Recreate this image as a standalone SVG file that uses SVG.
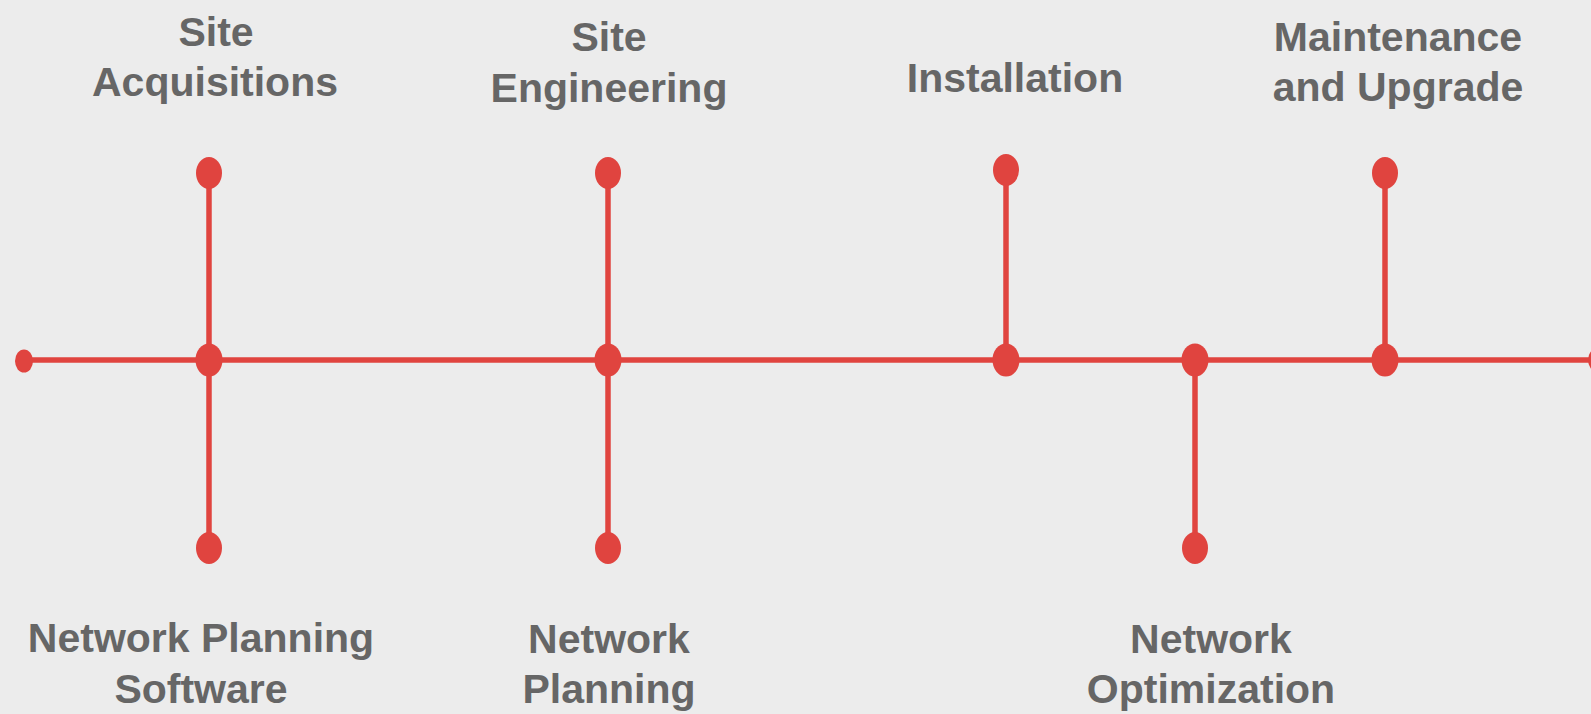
<svg xmlns="http://www.w3.org/2000/svg" width="1591" height="714" viewBox="0 0 1591 714">
<style>
.bg{fill:#ececec}
.ln{stroke:#e0443f;stroke-width:5.5;fill:none}
.dot{fill:#e0443f}
.lbl{font-family:"Liberation Sans","Open Sans",Arial,sans-serif;font-weight:bold;font-size:41px;fill:#666666;text-anchor:middle}
</style>
<rect class="bg" x="0" y="0" width="1591" height="714"/>
<g id="connectors">
<line class="ln" x1="24" y1="360" x2="1591" y2="360"/>
<line class="ln" x1="209" y1="173" x2="209" y2="548"/>
<line class="ln" x1="608" y1="173" x2="608" y2="548"/>
<line class="ln" x1="1006" y1="170" x2="1006" y2="360"/>
<line class="ln" x1="1195" y1="360" x2="1195" y2="548"/>
<line class="ln" x1="1385" y1="173" x2="1385" y2="360"/>
</g>
<g id="start"><ellipse class="dot" cx="24" cy="361" rx="9" ry="11.5"/></g>
<g id="end"><ellipse class="dot" cx="1597" cy="360" rx="9" ry="11.5"/></g>
<g id="site-acquisitions">
<ellipse class="dot" cx="209" cy="173" rx="13" ry="16"/>
<ellipse class="dot" cx="209" cy="360" rx="13.5" ry="16.5"/>
<text class="lbl" x="216" y="46">Site</text>
<text class="lbl" x="215" y="96">Acquisitions</text>
</g>
<g id="network-planning-software">
<ellipse class="dot" cx="209" cy="548" rx="13" ry="16"/>
<text class="lbl" x="201" y="652">Network Planning</text>
<text class="lbl" x="201" y="703">Software</text>
</g>
<g id="site-engineering">
<ellipse class="dot" cx="608" cy="173" rx="13" ry="16"/>
<ellipse class="dot" cx="608" cy="360" rx="13.5" ry="16.5"/>
<text class="lbl" x="609" y="51">Site</text>
<text class="lbl" x="609" y="102">Engineering</text>
</g>
<g id="network-planning">
<ellipse class="dot" cx="608" cy="548" rx="13" ry="16"/>
<text class="lbl" x="609" y="653">Network</text>
<text class="lbl" x="609" y="703">Planning</text>
</g>
<g id="installation">
<ellipse class="dot" cx="1006" cy="170" rx="13" ry="16"/>
<ellipse class="dot" cx="1006" cy="360" rx="13.5" ry="16.5"/>
<text class="lbl" x="1015" y="92">Installation</text>
</g>
<g id="network-optimization">
<ellipse class="dot" cx="1195" cy="360" rx="13.5" ry="16.5"/>
<ellipse class="dot" cx="1195" cy="548" rx="13" ry="16"/>
<text class="lbl" x="1211" y="653">Network</text>
<text class="lbl" x="1211" y="703">Optimization</text>
</g>
<g id="maintenance-upgrade">
<ellipse class="dot" cx="1385" cy="173" rx="13" ry="16"/>
<ellipse class="dot" cx="1385" cy="360" rx="13.5" ry="16.5"/>
<text class="lbl" x="1398" y="51">Maintenance</text>
<text class="lbl" x="1398" y="101">and Upgrade</text>
</g>
</svg>
